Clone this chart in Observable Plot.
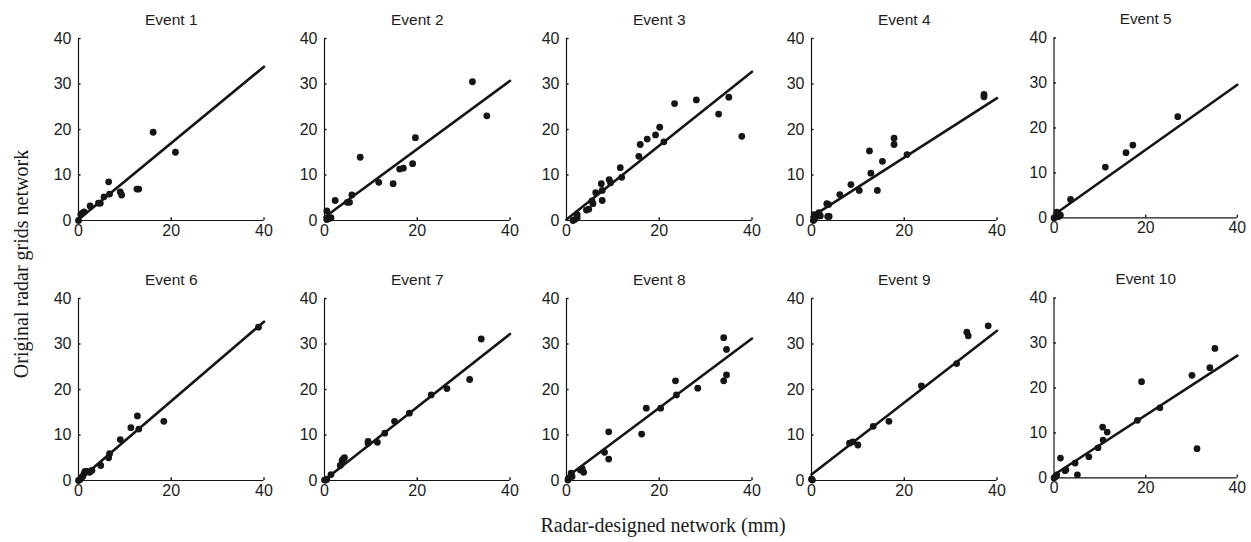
<!DOCTYPE html>
<html><head><meta charset="utf-8">
<script src="https://cdn.jsdelivr.net/npm/d3@7"></script>
<script src="https://cdn.jsdelivr.net/npm/@observablehq/plot@0.6"></script>
<style>
body{margin:0;background:#fff;}
#chart{position:relative;width:1251px;height:542px;overflow:hidden;background:#fff;}
.panel{position:absolute;}
.panel svg{overflow:visible;}
.lab{position:absolute;font-family:"Liberation Serif","Times New Roman",serif;font-size:20px;line-height:20px;color:#1a1a1a;white-space:nowrap;}
#ylab{left:21px;top:264px;transform:translate(-50%,-50%) rotate(-90deg);}
#xlab{left:663px;top:515px;transform:translateX(-50%);}
</style>
</head><body>
<div id="chart">
  <div class="lab" id="ylab">Original radar grids network</div>
  <div class="lab" id="xlab">Radar-designed network (mm)</div>
</div>
<script>
const eventNames = ["Event 1","Event 2","Event 3","Event 4","Event 5","Event 6","Event 7","Event 8","Event 9","Event 10"];
const xTicks = [0, 20, 40];
const yTicks = [0, 10, 20, 30, 40];

const event1X = [0, 0.5, 0.8, 1.2, 2.5, 4.3, 4.7, 5.5, 6.5, 6.7, 9.0, 9.3, 12.6, 13.0, 16.1, 20.9];
const event1Y = [0, 1.3, 1.6, 1.9, 3.2, 3.8, 3.8, 5.2, 8.5, 5.8, 6.3, 5.6, 6.9, 6.9, 19.4, 15.0];
const event2X = [0.5, 0.5, 0.9, 1.4, 2.3, 4.9, 5.4, 5.9, 7.7, 11.7, 14.8, 16.2, 17.0, 19.0, 19.6, 31.9, 35.0];
const event2Y = [2.1, 0.2, 0.4, 0.6, 4.4, 4.0, 4.0, 5.6, 13.9, 8.4, 8.1, 11.3, 11.5, 12.5, 18.2, 30.5, 23.0];
const event3X = [1.4, 1.8, 2.3, 2.3, 4.3, 4.8, 5.5, 5.7, 6.3, 7.5, 7.7, 7.7, 9.2, 9.5, 11.6, 11.9, 15.6, 15.9, 17.4, 19.2, 20.1, 21.0, 23.3, 28.0, 32.8, 35.0, 37.8];
const event3Y = [0, 0.2, 0.6, 1.3, 2.3, 2.5, 4.3, 3.7, 6.1, 8.1, 6.6, 4.4, 9.0, 8.3, 11.6, 9.5, 14.1, 16.7, 17.9, 18.8, 20.5, 17.3, 25.7, 26.5, 23.4, 27.1, 18.5];
const event4X = [0.4, 0.6, 0.6, 0.9, 1.3, 1.6, 1.9, 3.3, 3.7, 3.5, 3.8, 6.1, 8.5, 10.3, 12.5, 12.8, 14.2, 15.3, 17.8, 17.8, 20.6, 37.2, 37.2];
const event4Y = [0.0, 0.2, 1.3, 0.7, 1.3, 1.7, 1.0, 3.7, 3.5, 0.9, 0.9, 5.7, 7.9, 6.6, 15.3, 10.4, 6.6, 13.0, 18.1, 16.7, 14.5, 27.7, 27.2];
const event5X = [0, 0.5, 0.9, 0.6, 1.4, 1.0, 3.6, 11.2, 15.7, 17.2, 27.0];
const event5Y = [0, 0.2, 1.0, 1.3, 0.6, 0.3, 4.1, 11.3, 14.5, 16.2, 22.5];
const event6X = [0, 0.4, 0.6, 0.9, 1.2, 1.4, 1.9, 2.4, 2.9, 4.8, 6.5, 6.7, 9.0, 11.3, 12.7, 13.0, 18.4, 38.8];
const event6Y = [0, 0.3, 0.6, 0.9, 1.5, 2.0, 2.0, 1.8, 2.2, 3.3, 5.0, 5.9, 9.0, 11.6, 14.2, 11.3, 13.0, 33.7];
const event7X = [0, 0.3, 0.5, 1.4, 3.4, 3.8, 4.1, 4.3, 9.4, 9.4, 11.4, 13.0, 15.1, 18.3, 23.0, 26.4, 31.3, 33.8];
const event7Y = [0.1, 0.1, 0.3, 1.3, 3.3, 4.4, 4.8, 5.0, 8.6, 8.2, 8.4, 10.4, 13.0, 14.8, 18.8, 20.2, 22.2, 31.1];
const event8X = [0.3, 0.5, 1.0, 1.2, 3.0, 3.4, 3.7, 8.2, 9.1, 9.1, 16.2, 17.2, 20.3, 23.5, 23.7, 28.3, 33.9, 33.9, 34.5, 34.5];
const event8Y = [0.1, 0.4, 1.6, 0.9, 2.3, 2.6, 1.8, 6.2, 10.7, 4.7, 10.2, 15.9, 15.9, 21.9, 18.8, 20.3, 31.4, 21.9, 28.8, 23.2];
const event9X = [0, 0.2, 8.2, 8.9, 10.0, 13.3, 16.7, 23.7, 31.3, 33.5, 33.8, 38.1];
const event9Y = [0.3, 0.1, 8.2, 8.5, 7.8, 11.9, 13.0, 20.8, 25.7, 32.6, 31.8, 34.0];
const event10X = [0, 0.4, 0.6, 1.4, 2.4, 2.6, 4.6, 5.1, 7.6, 9.6, 10.6, 10.7, 11.6, 18.2, 19.1, 23.1, 30.1, 31.2, 34.0, 35.1];
const event10Y = [0, 0.3, 0.7, 4.4, 1.6, 1.8, 3.3, 0.7, 4.7, 6.7, 11.3, 8.4, 10.2, 12.8, 21.4, 15.6, 22.8, 6.5, 24.5, 28.8];

const fitIntercepts = [0.2, 0.7, 0.2, 0.8, 0.7, 0.0, 0.1, 0.7, 1.3, 0.7];
const fitSlopes = [0.84, 0.75, 0.8125, 0.6525, 0.7225, 0.8725, 0.8025, 0.7625, 0.79, 0.6625];

const allX = [event1X, event2X, event3X, event4X, event5X, event6X, event7X, event8X, event9X, event10X];
const allY = [event1Y, event2Y, event3Y, event4Y, event5Y, event6Y, event7Y, event8Y, event9Y, event10Y];

const colX0 = [78.3, 324.3, 566, 810.7, 1054.3];
const rowTop = [37.7, 297.7];
const W = 185.5, H = 182, mL = 40, mR = 14, mT = 40, mB = 30;
const ink = "#151515";
const chart = document.getElementById("chart");

eventNames.forEach((name, i) => {
  const col = i % 5, row = Math.floor(i / 5);
  const pts = allX[i].map((x, j) => ({x, y: allY[i][j]}));
  const fit = [0, 40].map(x => ({x, y: fitIntercepts[i] + fitSlopes[i] * x}));
  const p = Plot.plot({
    width: mL + W + mR, height: mT + H + mB,
    marginLeft: mL, marginRight: mR, marginTop: mT, marginBottom: mB,
    x: {domain: [0, 40]}, y: {domain: [0, 40]},
    style: {background: "transparent", fontFamily: "'Liberation Sans', Arial, sans-serif", fontSize: "16px", fontWeight: "normal", color: "#1c1c1c", overflow: "visible"},
    marks: [
      Plot.axisX({ticks: xTicks, tickSize: 0, tickPadding: 4, label: null, tickFormat: d => d}),
      Plot.axisY({ticks: yTicks, tickSize: 0, tickPadding: 7, label: null, tickFormat: d => d}),
      Plot.ruleY([0], {x1: 0, x2: 40, stroke: ink, strokeWidth: 1.2}),
      Plot.ruleX([0], {y1: 0, y2: 40, stroke: ink, strokeWidth: 1.2}),
      Plot.ruleY(yTicks.slice(1), {x1: 0, x2: 0.55, stroke: ink, strokeWidth: 1.4}),
      Plot.ruleX(xTicks.slice(1), {y1: 0, y2: 0.6, stroke: ink, strokeWidth: 1.4}),
      Plot.line(fit, {x: "x", y: "y", stroke: ink, strokeWidth: 2.6}),
      Plot.dot(pts, {x: "x", y: "y", r: 3.4, fill: ink, stroke: "none"}),
      Plot.text([name], {text: d => d, frameAnchor: "top", lineAnchor: "bottom", dy: -14, fontSize: 15.5, fontWeight: "normal", fill: "#1c1c1c"})
    ]
  });
  const div = document.createElement("div");
  div.className = "panel";
  div.style.left = (colX0[col] - mL) + "px";
  div.style.top = (rowTop[row] - mT) + "px";
  div.appendChild(p);
  chart.appendChild(div);
});
</script>
</body></html>
